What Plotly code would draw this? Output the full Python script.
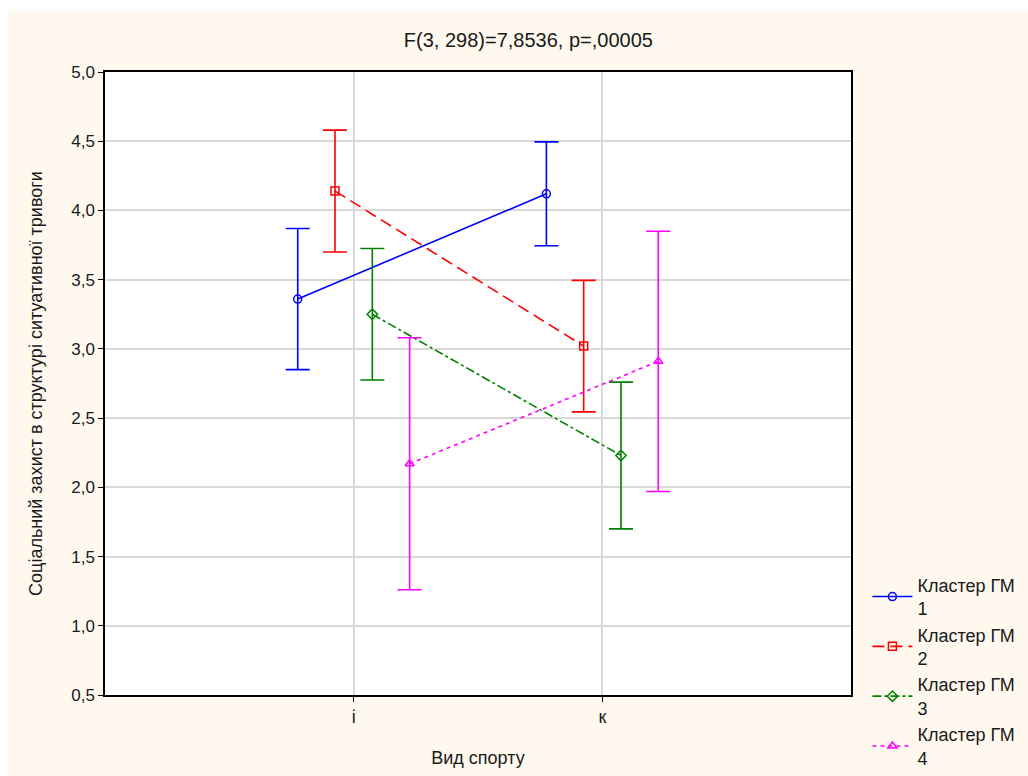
import plotly.graph_objects as go

# Sport categories and cluster groups
categories = ["і", "к"]
clusters = ["Кластер ГМ<br>1", "Кластер ГМ<br>2", "Кластер ГМ<br>3", "Кластер ГМ<br>4"]

# Means per cluster for each category
means_c1 = [3.36, 4.12]
means_c2 = [4.14, 3.02]
means_c3 = [3.25, 2.23]
means_c4 = [2.17, 2.91]

# Confidence-interval half widths
ci_c1 = [0.51, 0.375]
ci_c2 = [0.44, 0.475]
ci_c3 = [0.475, 0.53]
ci_c4 = [0.91, 0.94]

y_ticks = [0.5, 1.0, 1.5, 2.0, 2.5, 3.0, 3.5, 4.0, 4.5, 5.0]

series = [
    (clusters[0], means_c1, ci_c1, "#0000ff", "circle-open", "solid", -0.225),
    (clusters[1], means_c2, ci_c2, "#ff0000", "square-open", "12px,6px", -0.075),
    (clusters[2], means_c3, ci_c3, "#008000", "diamond-open", "dashdot", 0.075),
    (clusters[3], means_c4, ci_c4, "#ff00ff", "triangle-up-open", "4px,4px", 0.225),
]

fig = go.Figure()
base = [i + 1 for i in range(len(categories))]
for name, m, ci, color, symbol, dash, off in series:
    fig.add_trace(go.Scatter(
        x=[b + off for b in base],
        y=m,
        name=name,
        mode="lines+markers",
        line=dict(color=color, width=1.6, dash=dash),
        marker=dict(symbol=symbol, size=8, color=color, line=dict(color=color, width=1.5)),
        error_y=dict(type="data", array=ci, visible=True, color=color, thickness=1.6, width=12),
    ))

cream = "#fef8ee"
font = "Liberation Sans, Arial, sans-serif"

fig.update_layout(
    width=1028,
    height=776,
    margin=dict(l=105, r=177, t=72, b=81, autoexpand=False),
    paper_bgcolor=cream,
    plot_bgcolor="white",
    separators=", ",
    font=dict(family=font, size=17, color="#1a1a1a"),
    title=dict(
        text="F(3, 298)=7,8536, p=,00005",
        x=0.514, xanchor="center",
        y=1 - 40 / 776, yanchor="middle",
        font=dict(size=20, color="#1a1a1a"),
    ),
    xaxis=dict(
        range=[0, 3],
        tickvals=base,
        ticktext=categories,
        showgrid=True, gridcolor="#d9d9d9", gridwidth=1.5,
        showline=True, linecolor="black", linewidth=1.5, mirror=True,
        ticks="outside", ticklen=5, tickcolor="black",
        tickfont=dict(size=18),
        zeroline=False,
        title=dict(text="Вид спорту", standoff=25, font=dict(size=18)),
    ),
    yaxis=dict(
        range=[0.5, 5.0],
        tickvals=y_ticks,
        tickformat=".1f",
        showgrid=True, gridcolor="#d9d9d9", gridwidth=1.5,
        showline=True, linecolor="black", linewidth=1.5, mirror=True,
        ticks="outside", ticklen=5, tickcolor="black",
        tickfont=dict(size=17),
        zeroline=False,
        title=dict(text="Соціальний захист в структурі ситуативної тривоги", standoff=24,
                   font=dict(size=18)),
    ),
    legend=dict(
        x=1.022, xanchor="left",
        y=0.206, yanchor="top",
        bgcolor="rgba(0,0,0,0)",
        font=dict(size=18),
        tracegroupgap=0,
        itemwidth=40,
    ),
    shapes=[
        # white strips along the top and left page edges
        dict(type="rect", xref="paper", yref="paper", x0=-0.3, x1=1.4, y0=(695 - 11) / 623, y1=1.3,
             fillcolor="white", line=dict(width=0), layer="below"),
        dict(type="rect", xref="paper", yref="paper", x0=-0.3, x1=(8 - 105) / 746, y0=-0.3, y1=1.3,
             fillcolor="white", line=dict(width=0), layer="below"),
    ],
)

fig.write_html("out.html")
